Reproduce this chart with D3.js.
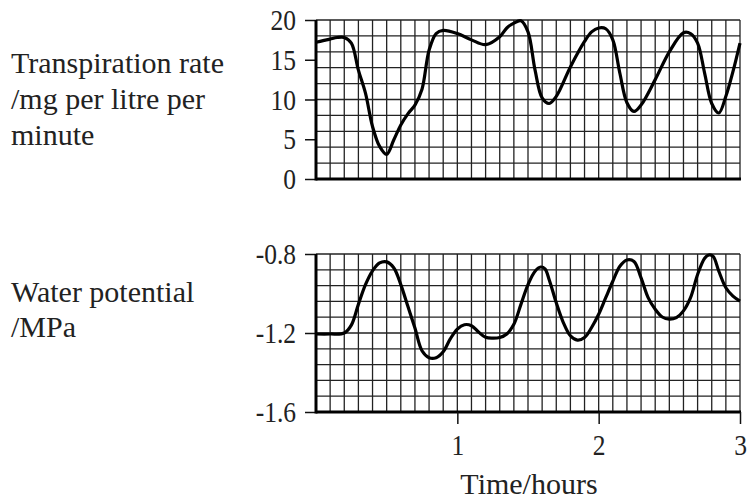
<!DOCTYPE html>
<html>
<head>
<meta charset="utf-8">
<script src="https://cdn.jsdelivr.net/npm/d3@7"></script>
<style>
  body { margin: 0; background: #fff; }
  text { font-family: "Liberation Serif", "Times New Roman", serif; fill: #222; }
</style>
</head>
<body>
<svg id="chart"></svg>
<script>
// time in hours, shared by both panels
const rateTimes = [0, 0.05, 0.1, 0.15, 0.2, 0.25, 0.3, 0.35, 0.4, 0.45, 0.5, 0.55, 0.6, 0.65, 0.7, 0.75,
  0.8, 0.85, 0.9, 1.0, 1.1, 1.2, 1.3, 1.35, 1.4, 1.45, 1.5, 1.55, 1.6, 1.65, 1.7, 1.8, 1.9, 1.95,
  2.0, 2.05, 2.1, 2.15, 2.2, 2.25, 2.3, 2.4, 2.5, 2.6, 2.65, 2.7, 2.75, 2.8, 2.85, 2.9, 2.95, 3.0];
const rateValues = [17.2, 17.4, 17.6, 17.8, 17.8, 17.1, 13.7, 10.8, 6.6, 4.1, 3.1, 4.9, 6.8, 8.2, 9.3, 11.3,
  16.2, 18.3, 18.7, 18.3, 17.5, 16.9, 17.9, 19.0, 19.6, 19.9, 18.5, 13.7, 10.2, 9.5, 10.4, 14.1, 17.3, 18.5,
  19.0, 18.9, 17.5, 13.3, 9.6, 8.5, 9.3, 12.5, 16.0, 18.4, 18.3, 17.1, 13.3, 9.5, 8.3, 10.4, 13.5, 17.1];

const wpTimes = [0, 0.1, 0.2, 0.25, 0.3, 0.35, 0.4, 0.45, 0.5, 0.55, 0.6, 0.65, 0.7, 0.75, 0.8, 0.85,
  0.9, 0.95, 1.0, 1.05, 1.1, 1.15, 1.2, 1.25, 1.3, 1.35, 1.4, 1.45, 1.5, 1.55, 1.59, 1.62, 1.65, 1.7,
  1.75, 1.8, 1.85, 1.9, 1.95, 2.0, 2.05, 2.1, 2.15, 2.2, 2.25, 2.3, 2.35, 2.4, 2.45, 2.5, 2.55, 2.6,
  2.65, 2.7, 2.75, 2.78, 2.81, 2.85, 2.9, 2.95, 3.0];
const wpValues = [-1.205, -1.205, -1.2, -1.16, -1.055, -0.955, -0.885, -0.845, -0.84, -0.87, -0.955, -1.065,
  -1.175, -1.29, -1.325, -1.325, -1.295, -1.23, -1.18, -1.158, -1.163, -1.195, -1.222, -1.226, -1.223,
  -1.205, -1.156, -1.055, -0.955, -0.887, -0.866, -0.875, -0.93, -1.047, -1.147, -1.214, -1.236, -1.223,
  -1.172, -1.105, -1.021, -0.938, -0.862, -0.83, -0.838, -0.921, -1.021, -1.08, -1.119, -1.13, -1.122,
  -1.088, -1.021, -0.904, -0.822, -0.805, -0.812, -0.887, -0.971, -1.013, -1.038];

const rateTicks = [0, 5, 10, 15, 20];
const wpTicks = [-1.6, -1.2, -0.8];
const timeTicks = [1, 2, 3];

const svg = d3.select("#chart").attr("width", 747).attr("height", 502);

const x = d3.scaleLinear().domain([0, 3]).range([316, 740]);
const yTop = d3.scaleLinear().domain([0, 20]).range([179, 20]);
const yBot = d3.scaleLinear().domain([-1.6, -0.8]).range([412, 254]);

const squeeze = 0.85;

function panel(y, ticks, fmt, times, values) {
  const g = svg.append("g");
  const [d0, d1] = y.domain();
  const [r0, r1] = y.range();

  // grid: 0.1 h columns, 10 rows
  g.selectAll(".vg").data(d3.range(31)).enter().append("line")
    .attr("x1", i => x(i / 10)).attr("x2", i => x(i / 10))
    .attr("y1", r0).attr("y2", r1)
    .attr("stroke", "#222").attr("stroke-width", 1.3);
  g.selectAll(".hg").data(d3.range(11)).enter().append("line")
    .attr("x1", x(0)).attr("x2", x(3))
    .attr("y1", i => y(d0 + (d1 - d0) * i / 10)).attr("y2", i => y(d0 + (d1 - d0) * i / 10))
    .attr("stroke", "#222").attr("stroke-width", 1.3);

  // y axis
  const ax = g.append("g")
    .attr("transform", "translate(" + x(0) + ",0)")
    .call(d3.axisLeft(y).tickValues(ticks).tickFormat(fmt).tickSize(11).tickPadding(9));
  ax.select(".domain").remove();
  ax.selectAll(".tick line").attr("stroke", "#111").attr("stroke-width", 1.5);
  ax.selectAll(".tick text")
    .attr("font-size", 30)
    .attr("fill", "#222")
    .attr("font-family", "Liberation Serif, serif")
    .attr("x", -20 / squeeze)
    .attr("transform", "scale(" + squeeze + ",1)");

  // heavy left and bottom edges
  g.append("line").attr("x1", x(0)).attr("x2", x(0)).attr("y1", r0 + 1.5).attr("y2", r1)
    .attr("stroke", "#000").attr("stroke-width", 3);
  g.append("line").attr("x1", x(0)).attr("x2", x(3) + 1).attr("y1", r0).attr("y2", r0)
    .attr("stroke", "#000").attr("stroke-width", 3);

  const line = d3.line()
    .x((d, i) => x(times[i]))
    .y(d => y(d))
    .curve(d3.curveCatmullRom);
  g.append("path").datum(values)
    .attr("d", line)
    .attr("fill", "none")
    .attr("stroke", "#000")
    .attr("stroke-width", 3.2)
    .attr("stroke-linejoin", "round");
  return g;
}

panel(yTop, rateTicks, d => d, rateTimes, rateValues);
panel(yBot, wpTicks, d => d.toFixed(1), wpTimes, wpValues);

// time axis under the lower panel
const xa = svg.append("g")
  .attr("transform", "translate(0," + yBot(-1.6) + ")")
  .call(d3.axisBottom(x).tickValues(timeTicks).tickFormat(d => d).tickSize(12).tickPadding(10));
xa.select(".domain").remove();
xa.selectAll(".tick line").attr("stroke", "#111").attr("stroke-width", 1.5);
xa.selectAll(".tick text")
  .attr("font-size", 30)
  .attr("fill", "#222")
  .attr("font-family", "Liberation Serif, serif")
  .attr("transform", "scale(" + squeeze + ",1)")
  .attr("x", 0);

svg.append("text").attr("x", 529).attr("y", 494).attr("text-anchor", "middle")
  .attr("font-size", 30).text("Time/hours");

const rateLabel = ["Transpiration rate", "/mg per litre per", "minute"];
const wpLabel = ["Water potential", "/MPa"];
svg.selectAll(".rl").data(rateLabel).enter().append("text")
  .attr("x", 11).attr("y", (d, i) => 73 + i * 36)
  .attr("font-size", 30).text(d => d);
svg.selectAll(".wl").data(wpLabel).enter().append("text")
  .attr("x", 11).attr("y", (d, i) => 302 + i * 35)
  .attr("font-size", 30).text(d => d);
</script>
</body>
</html>
